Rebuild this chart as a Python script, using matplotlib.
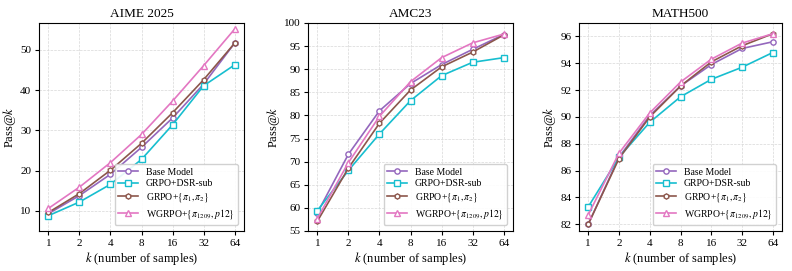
import numpy as np
import matplotlib
matplotlib.use("Agg")
import matplotlib.pyplot as plt

plt.rcParams['font.family'] = ['Liberation Serif', 'DejaVu Serif']
plt.rcParams['mathtext.fontset'] = 'stix'

ks = [1, 2, 4, 8, 16, 32, 64]
labels = ["Base Model", "GRPO+DSR-sub", r"GRPO+$\{\pi_1,\pi_2\}$", r"WGRPO+$\{\pi_{1209},p12\}$"]

# AIME 2025
aime_base = [9.3, 13.8, 19.1, 25.8, 33.1, 41.5, 51.7]
aime_dsr = [8.8, 12.2, 16.6, 22.8, 31.4, 41.1, 46.3]
aime_pi = [9.6, 14.3, 20.1, 26.8, 34.4, 42.6, 51.7]
aime_w = [10.6, 15.9, 22.0, 29.0, 37.3, 46.1, 55.2]

# AMC23
amc_base = [58.9, 71.6, 81.0, 86.9, 91.0, 94.3, 97.5]
amc_dsr = [59.4, 68.1, 76.0, 83.2, 88.6, 91.5, 92.5]
amc_pi = [57.1, 68.6, 78.3, 85.5, 90.5, 93.7, 97.4]
amc_w = [57.7, 69.8, 79.8, 87.3, 92.5, 95.7, 97.6]

# MATH500
math_base = [82.0, 87.0, 90.1, 92.3, 93.9, 95.1, 95.6]
math_dsr = [83.3, 87.0, 89.6, 91.5, 92.8, 93.7, 94.8]
math_pi = [82.0, 86.9, 90.0, 92.3, 94.1, 95.3, 96.2]
math_w = [82.7, 87.3, 90.3, 92.6, 94.3, 95.5, 96.2]

colors = ['tab:purple', 'tab:cyan', 'tab:brown', 'tab:pink']
markers = ['o', 's', 'h', '^']

panels = [
    ("AIME 2025", [aime_base, aime_dsr, aime_pi, aime_w], (5, 56.7), [10, 20, 30, 40, 50]),
    ("AMC23", [amc_base, amc_dsr, amc_pi, amc_w], (55, 100), list(range(55, 101, 5))),
    ("MATH500", [math_base, math_dsr, math_pi, math_w], (81.5, 97.0), [82, 84, 86, 88, 90, 92, 94, 96]),
]

fig = plt.figure(figsize=(7.92, 2.71), dpi=100)
lefts = [39, 308, 579]
widths = [205, 205, 203]
for (title, series, ylim, yticks), l, w in zip(panels, lefts, widths):
    ax = fig.add_axes([l / 792, (271 - 231) / 271, w / 792, (231 - 23) / 271])
    for vals, c, m, lab in zip(series, colors, markers, labels):
        ax.plot(ks, vals, color=c, marker=m, markersize=3.8,
                markerfacecolor='white', markeredgewidth=1.0, linewidth=1.2, label=lab)
    ax.set_xscale('log', base=2)
    ax.set_xticks(ks)
    ax.set_xticklabels([str(k) for k in ks])
    ax.minorticks_off()
    ax.set_ylim(*ylim)
    ax.set_yticks(yticks)
    ax.set_title(title, fontsize=9.5, pad=4)
    ax.set_xlabel(r"$k$ (number of samples)", fontsize=9, labelpad=2)
    ax.set_ylabel(r"Pass@$k$", fontsize=9, labelpad=1.5)
    ax.tick_params(labelsize=8, length=3, pad=2.5)
    ax.grid(True, linestyle='--', linewidth=0.5, color='#d8d8d8')
    ax.legend(loc='lower right', fontsize=7, framealpha=0.9, handlelength=2.0,
              borderpad=0.4, labelspacing=0.3, borderaxespad=0.6)

fig.savefig("out.png", dpi=100)
